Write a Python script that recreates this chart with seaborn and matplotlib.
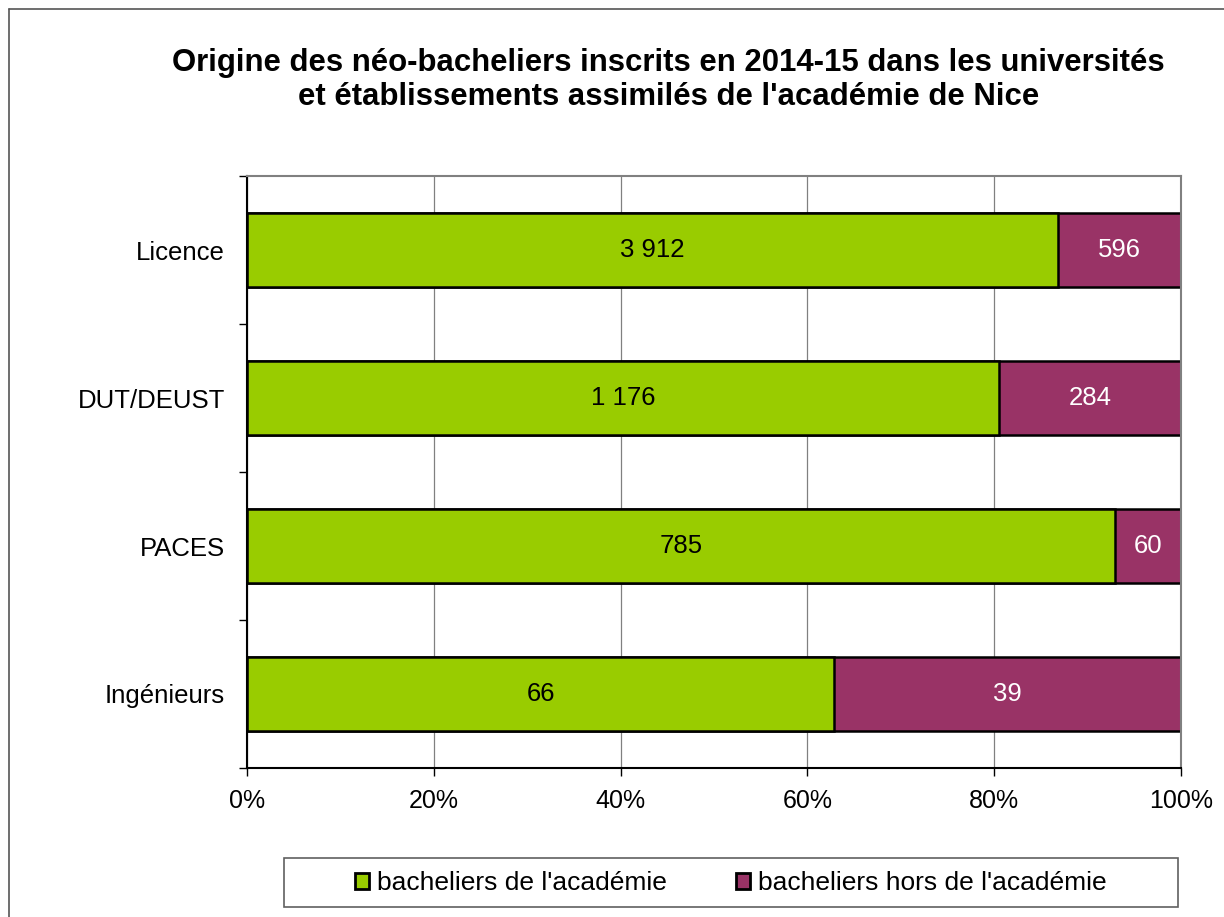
import matplotlib
matplotlib.use("Agg")
import matplotlib.pyplot as plt
import matplotlib.patches as mpatches
import numpy as np
import pandas as pd
import seaborn as sns

categories = ["Licence", "DUT/DEUST", "PACES", "Ingénieurs"]
academie = np.array([3912, 1176, 785, 66])
hors_academie = np.array([596, 284, 60, 39])
series_names = ["bacheliers de l'académie", "bacheliers hors de l'académie"]
xtick_labels = ["0%", "20%", "40%", "60%", "80%", "100%"]

GREEN = "#99CC00"
PURPLE = "#993366"

sns.set_theme(style="white")
plt.rcParams["font.family"] = ["Liberation Sans", "DejaVu Sans"]
plt.rcParams["text.color"] = "black"
plt.rcParams["xtick.labelcolor"] = "black"
plt.rcParams["ytick.labelcolor"] = "black"

total = academie + hors_academie
pct_ac = 100 * academie / total
df = pd.DataFrame({"cat": categories, "full": 100.0, "ac": pct_ac})

fig = plt.figure(figsize=(12.24, 9.17), dpi=100)
ax = fig.add_axes([247 / 1224, 1 - 768 / 917, (1181 - 247) / 1224, (768 - 176) / 917])

# stacked bars: full width in purple, green part on top
sns.barplot(data=df, x="full", y="cat", color=PURPLE, width=0.5, orient="h",
            edgecolor="black", linewidth=1.8, saturation=1, ax=ax)
sns.barplot(data=df, x="ac", y="cat", color=GREEN, width=0.5, orient="h",
            edgecolor="black", linewidth=1.8, saturation=1, ax=ax)

def fmt(v):
    return f"{v:,}".replace(",", " ")

for i in range(len(categories)):
    ax.text(pct_ac[i] / 2, i, fmt(academie[i]), ha="center", va="center",
            fontsize=18.5, color="black")
    ax.text(pct_ac[i] + (100 - pct_ac[i]) / 2, i, fmt(hors_academie[i]),
            ha="center", va="center", fontsize=18.5, color="white")

ax.set_xlim(0, 100)
ax.set_ylim(3.5, -0.5)
ax.set_xticks(np.arange(0, 101, 20))
ax.set_xticklabels(xtick_labels, fontsize=18)
ax.set_yticks(range(len(categories)))
ax.set_yticklabels(categories, fontsize=18.5)
ax.set_yticks(np.arange(-0.5, 4, 1), minor=True)
ax.set_xlabel("")
ax.set_ylabel("")
ax.tick_params(axis="y", which="major", left=True, length=0, pad=16)
ax.tick_params(axis="y", which="minor", left=True, length=6, direction="out", color="black", width=1)
ax.tick_params(axis="x", which="major", bottom=True, length=6, direction="out", color="black", width=1, pad=9)
ax.xaxis.grid(True, color="#808080", linewidth=0.9)
ax.set_axisbelow(True)
for s in ["top", "right"]:
    ax.spines[s].set_color("#808080")
    ax.spines[s].set_linewidth(1.5)
for s in ["left", "bottom"]:
    ax.spines[s].set_color("black")
    ax.spines[s].set_linewidth(1.5)

fig.text(0.546, 1 - 80 / 917,
         "Origine des néo-bacheliers inscrits en 2014-15 dans les universités\n"
         "et établissements assimilés de l'académie de Nice",
         ha="center", va="center", fontsize=22.4, fontweight="bold", linespacing=1.2)

handles = [mpatches.Patch(facecolor=GREEN, edgecolor="black", linewidth=2),
           mpatches.Patch(facecolor=PURPLE, edgecolor="black", linewidth=2)]
leg = fig.legend(handles, series_names, loc="center", bbox_to_anchor=(0.597, 1 - 883 / 917),
                 ncol=2, fontsize=19, frameon=False, handlelength=0.55,
                 handleheight=0.55, handletextpad=0.3, columnspacing=2.6,
                 borderpad=0.3)
fig.add_artist(mpatches.Rectangle((284 / 1224, 1 - 907 / 917), (1178 - 284) / 1224, 49 / 917,
                                  transform=fig.transFigure, fill=False,
                                  edgecolor="#606060", linewidth=1.2))

# outer chart frame (only top and left visible)
fig.add_artist(plt.Line2D([9 / 1224, 1.0], [1 - 9 / 917, 1 - 9 / 917],
                          color="#555555", linewidth=1.2, transform=fig.transFigure))
fig.add_artist(plt.Line2D([9 / 1224, 9 / 1224], [0, 1 - 9 / 917],
                          color="#555555", linewidth=1.2, transform=fig.transFigure))

fig.savefig("out.png", dpi=100, facecolor="white")
